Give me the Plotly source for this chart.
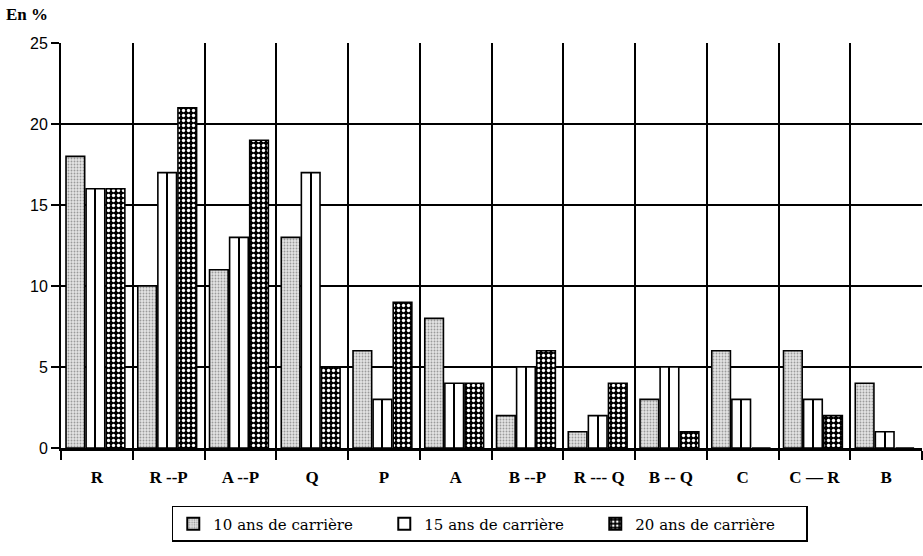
import plotly.graph_objects as go

# Parcours professionnels (catégories) et parts en %
categories = ["R", "R --P", "A --P", "Q", "P", "A", "B --P", "R --- Q", "B -- Q", "C", "C — R", "B"]
ans_10 = [18, 10, 11, 13, 6, 8, 2, 1, 3, 6, 6, 4]
ans_15 = [16, 17, 13, 17, 3, 4, 5, 2, 5, 3, 3, 1]
ans_20 = [16, 21, 19, 5, 9, 4, 6, 4, 1, 0, 2, 0]
series_names = ["10 ans de carrière", "15 ans de carrière", "20 ans de carrière"]
y_ticks = [0, 5, 10, 15, 20, 25]

BAR_W = 0.26
OUTLINE = dict(color="black", width=1.6)

fig = go.Figure()

# 10 ans : trame pointillée grise
fig.add_trace(go.Bar(
    x=categories, y=ans_10, name=series_names[0],
    width=BAR_W, offset=-0.30 - BAR_W / 2,
    marker=dict(color="white", line=OUTLINE,
                pattern=dict(shape=".", fgcolor="#9a9a9a", bgcolor="#e4e4e4",
                             size=3, solidity=0.3, fillmode="replace")),
))

# 15 ans : barre blanche séparée par un trait central
fig.add_trace(go.Bar(
    x=categories, y=ans_15, name=series_names[1],
    width=BAR_W, offset=-0.02 - BAR_W / 2,
    marker=dict(color="white", line=OUTLINE),
    legendgroup="15",
))
fig.add_trace(go.Bar(
    x=categories, y=ans_15, showlegend=False, hoverinfo="skip",
    width=0.014, offset=-0.02 - 0.007,
    marker=dict(color="black", line=dict(width=0)),
    legendgroup="15",
))

# 20 ans : fond noir à pastilles blanches
fig.add_trace(go.Bar(
    x=categories, y=ans_20, name=series_names[2],
    width=BAR_W, offset=0.26 - BAR_W / 2,
    marker=dict(color="black", line=OUTLINE,
                pattern=dict(shape=".", fgcolor="white", bgcolor="black",
                             size=5, solidity=0.35, fillmode="replace")),
))

fig.update_layout(
    barmode="overlay",
    width=923, height=556,
    margin=dict(l=61, r=1, t=43, b=108),
    paper_bgcolor="white", plot_bgcolor="white",
    showlegend=True,
    legend=dict(
        orientation="h", x=0.498, xanchor="center", y=-0.143, yanchor="top",
        bordercolor="black", borderwidth=1.5, bgcolor="white",
        font=dict(family="DejaVu Serif", size=15, color="black"),
        itemsizing="constant", traceorder="normal",
        entrywidth=166,
    ),
    annotations=[dict(
        text="<b>En %</b>", xref="paper", yref="paper", x=-0.066, y=1.07,
        xanchor="left", yanchor="middle", showarrow=False,
        font=dict(family="Liberation Serif", size=17, color="black"),
    )],
)

fig.update_xaxes(
    type="category", tickson="boundaries",
    showgrid=True, gridcolor="black", gridwidth=2,
    showline=True, linecolor="black", linewidth=3,
    ticks="outside", ticklen=9, tickwidth=2, tickcolor="black",
    tickfont=dict(family="Liberation Serif", size=17, color="black", weight="bold"),
    ticklabelstandoff=12,
    range=[-0.5, 11.5],
)
fig.update_yaxes(
    range=[0, 25], tickvals=y_ticks,
    showgrid=True, gridcolor="black", gridwidth=2,
    showline=True, linecolor="black", linewidth=2,
    ticks="outside", ticklen=8, tickwidth=2, tickcolor="black",
    tickfont=dict(family="Liberation Sans", size=16, color="black"),
    zeroline=False,
)

fig.write_html("out.html")
